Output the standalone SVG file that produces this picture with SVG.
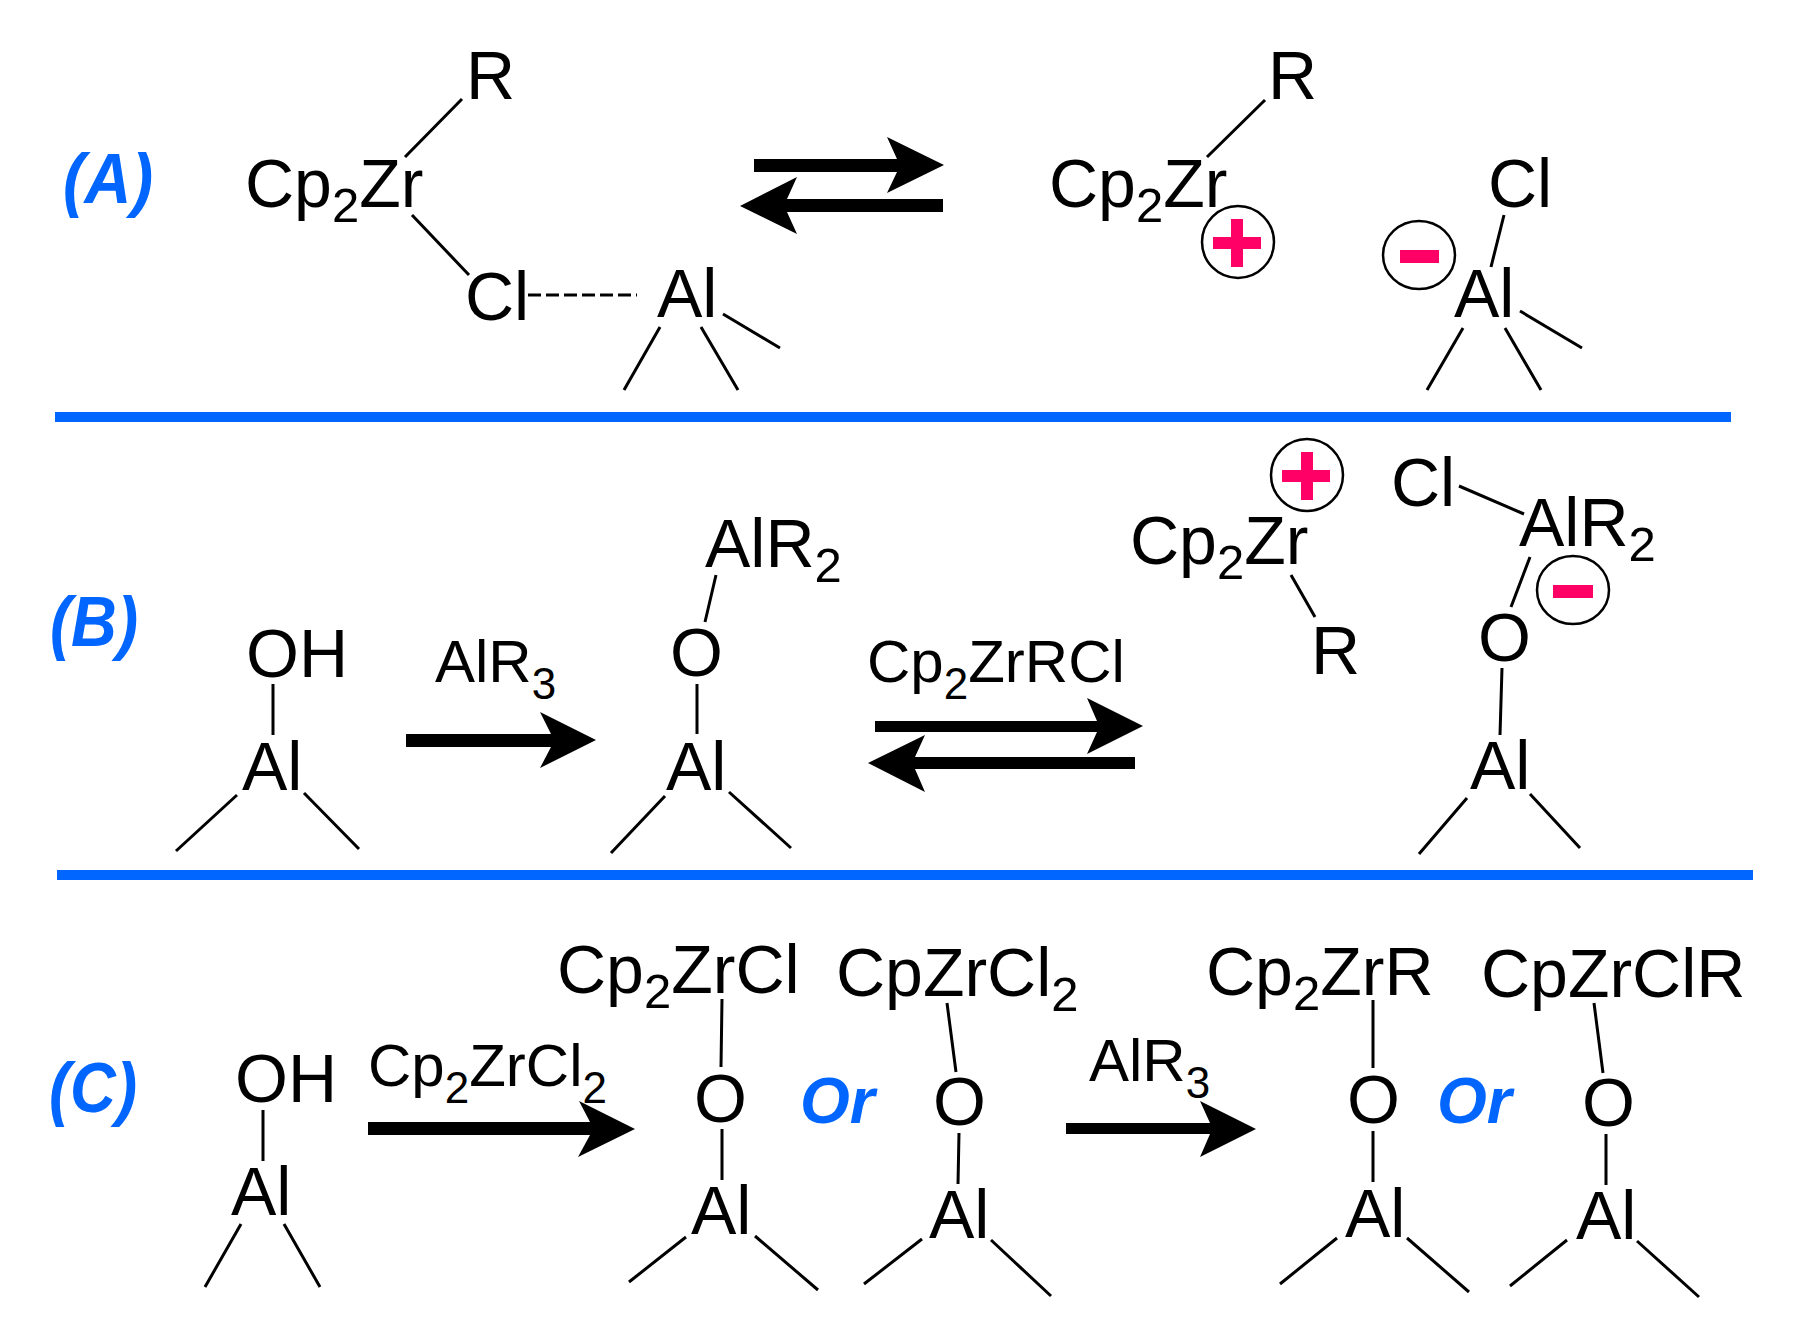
<svg xmlns="http://www.w3.org/2000/svg" width="1796" height="1344" viewBox="0 0 1796 1344">
<style>
text{font-family:"Liberation Sans",Arial,sans-serif;fill:#000}
.t{font-size:68px}
.r{font-size:60px}
.s{font-size:49px}
.q{font-size:44px}
.lab{font-size:70px;font-weight:bold;font-style:italic;fill:#0066ff}
.or{font-size:64px;font-weight:bold;font-style:italic;fill:#0066ff}
.b{stroke:#000;stroke-width:3;fill:none}
.d{stroke:#000;stroke-width:3;fill:none;stroke-dasharray:13 5}
.a{fill:#000;stroke:none}
.div{fill:#0066ff;stroke:none}
.ring{fill:#fff;stroke:#000;stroke-width:2.5}
.sign{fill:#ff0066;stroke:none}
</style>
<rect width="1796" height="1344" fill="#fff"/>
<g id="dividers">
<rect class="div" x="55" y="412" width="1676" height="10"/>
<rect class="div" x="57" y="870" width="1696" height="10"/>
</g>
<g id="labels">
<text id="label-a" class="lab" x="63" y="203" textLength="90" lengthAdjust="spacingAndGlyphs">(A)</text>
<text id="label-b" class="lab" x="50" y="646" textLength="88" lengthAdjust="spacingAndGlyphs">(B)</text>
<text id="label-c" class="lab" x="49" y="1112" textLength="88" lengthAdjust="spacingAndGlyphs">(C)</text>
<text id="or-1" class="or" x="800" y="1123">Or</text>
<text id="or-2" class="or" x="1437" y="1123">Or</text>
</g>
<g id="connectors">
<path class="b" d="M462 99L405 157M412 215L469 275M660 327L624 390M701 327L738 390M723 314L780 348"/>
<path class="d" d="M528 295H637"/>
<path class="b" d="M1265 100L1207 157M1504 215L1491 267M1463 328L1427 390M1505 328L1541 390M1520 311L1582 348"/>
<path class="b" d="M273 684V735M237 795L176 851M304 793L359 849"/>
<path class="b" d="M716 575L705 622M697 684V734M665 796L611 853M729 792L791 848"/>
<path class="b" d="M1291 575L1315 617M1459 486L1524 514M1530 557L1511 607M1502 668L1500 735M1467 798L1419 854M1530 794L1580 848"/>
<path class="b" d="M263 1110V1161M241 1224L205 1287M284 1224L320 1287"/>
<path class="b" d="M722 999L721 1067M722 1129V1180M686 1237L629 1282M755 1236L818 1290"/>
<path class="b" d="M947 1003L956 1072M959 1133L958 1184M922 1239L864 1284M991 1240L1051 1296"/>
<path class="b" d="M1373 1000V1068M1373 1131V1182M1337 1238L1280 1284M1407 1238L1469 1292"/>
<path class="b" d="M1594 1003L1603 1073M1606 1134V1185M1567 1240L1510 1286M1637 1241L1699 1297"/>
<polygon class="a" points="754,159 897,159 887,137 944,165 887,193 897,172 754,172"/>
<polygon class="a" points="943,199 787,199 797,177 740,206 797,234 787,212 943,212"/>
<polygon class="a" points="406,734 551,734 540,712 596,740 540,768 551,747 406,747"/>
<polygon class="a" points="875,721 1097,721 1087,698 1143,726 1087,754 1097,732 875,732"/>
<polygon class="a" points="1135,757 915,757 925,735 868,763 925,792 915,769 1135,769"/>
<polygon class="a" points="368,1122 590,1122 579,1101 635,1129 578,1157 590,1135 368,1135"/>
<polygon class="a" points="1066,1123 1210,1123 1200,1101 1256,1129 1200,1157 1210,1134 1066,1134"/>
</g>
<g id="scheme-a">
<text id="a-r1" class="t" x="466" y="99">R</text>
<text id="a-zr1" class="t" x="245" y="207">Cp<tspan class="s" dy="15">2</tspan><tspan dy="-15">Zr</tspan></text>
<text id="a-cl1" class="t" x="465" y="320">Cl</text>
<text id="a-al1" class="t" x="657" y="317">Al</text>
<text id="a-r2" class="t" x="1268" y="99">R</text>
<text id="a-zr2" class="t" x="1049" y="207">Cp<tspan class="s" dy="15">2</tspan><tspan dy="-15">Zr</tspan></text>
<g id="a-plus"><ellipse class="ring" cx="1238" cy="242" rx="36" ry="36"/><rect class="sign" x="1213" y="237" width="48" height="12"/><rect class="sign" x="1231" y="219" width="12" height="48"/></g>
<text id="a-cl2" class="t" x="1488" y="207">Cl</text>
<g id="a-minus"><ellipse class="ring" cx="1419" cy="255" rx="36" ry="34"/><rect class="sign" x="1400" y="250" width="39" height="13"/></g>
<text id="a-al2" class="t" x="1454" y="317">Al</text>
</g>
<g id="scheme-b">
<text id="b-oh" class="t" x="246" y="677">OH</text>
<text id="b-al1" class="t" x="242" y="790">Al</text>
<text id="b-reagent1" class="r" x="435" y="682">AlR<tspan class="q" dy="17">3</tspan></text>
<text id="b-alr2" class="t" x="705" y="567">AlR<tspan class="s" dy="15">2</tspan></text>
<text id="b-o1" class="t" x="670" y="676">O</text>
<text id="b-al2" class="t" x="666" y="790">Al</text>
<text id="b-reagent2" class="r" x="867" y="682">Cp<tspan class="q" dy="17">2</tspan><tspan dy="-17">ZrRCl</tspan></text>
<g id="b-plus"><ellipse class="ring" cx="1307" cy="475" rx="36" ry="36"/><rect class="sign" x="1282" y="470" width="48" height="12"/><rect class="sign" x="1301" y="452" width="12" height="48"/></g>
<text id="b-zr" class="t" x="1130" y="564">Cp<tspan class="s" dy="15">2</tspan><tspan dy="-15">Zr</tspan></text>
<text id="b-r" class="t" x="1311" y="674">R</text>
<text id="b-cl" class="t" x="1391" y="506">Cl</text>
<text id="b-alr2b" class="t" x="1519" y="546">AlR<tspan class="s" dy="15">2</tspan></text>
<g id="b-minus"><ellipse class="ring" cx="1573" cy="590" rx="36" ry="34"/><rect class="sign" x="1553" y="585" width="40" height="13"/></g>
<text id="b-o2" class="t" x="1478" y="661">O</text>
<text id="b-al3" class="t" x="1470" y="789">Al</text>
</g>
<g id="scheme-c">
<text id="c-oh" class="t" x="235" y="1102">OH</text>
<text id="c-al1" class="t" x="231" y="1215">Al</text>
<text id="c-reagent1" class="r" x="368" y="1086">Cp<tspan class="q" dy="17">2</tspan><tspan dy="-17">ZrCl</tspan><tspan class="q" dy="17">2</tspan></text>
<text id="c-zr1" class="t" x="557" y="993">Cp<tspan class="s" dy="15">2</tspan><tspan dy="-15">ZrCl</tspan></text>
<text id="c-o1" class="t" x="694" y="1122">O</text>
<text id="c-al2" class="t" x="691" y="1234">Al</text>
<text id="c-zr2" class="t" x="836" y="996">CpZrCl<tspan class="s" dy="15">2</tspan></text>
<text id="c-o2" class="t" x="933" y="1125">O</text>
<text id="c-al3" class="t" x="929" y="1238">Al</text>
<text id="c-reagent2" class="r" x="1089" y="1081">AlR<tspan class="q" dy="17">3</tspan></text>
<text id="c-zr3" class="t" x="1206" y="995">Cp<tspan class="s" dy="15">2</tspan><tspan dy="-15">ZrR</tspan></text>
<text id="c-o3" class="t" x="1347" y="1123">O</text>
<text id="c-al4" class="t" x="1345" y="1237">Al</text>
<text id="c-zr4" class="t" x="1481" y="997">CpZrClR</text>
<text id="c-o4" class="t" x="1582" y="1126">O</text>
<text id="c-al5" class="t" x="1576" y="1239">Al</text>
</g>
</svg>
